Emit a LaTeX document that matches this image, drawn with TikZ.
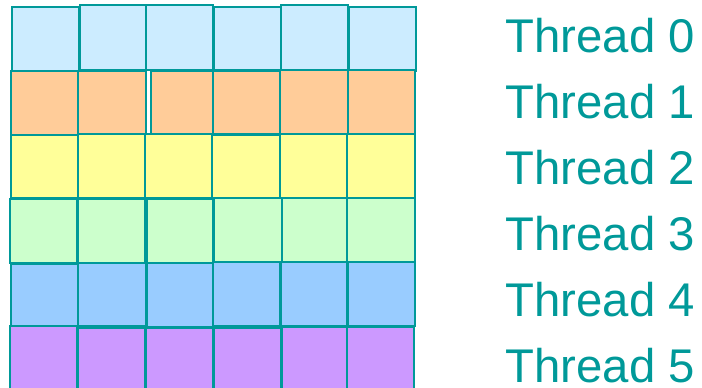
\documentclass[tikz,border=0pt]{standalone}
\usepackage{fontspec}
\setmainfont{Liberation Sans}
\definecolor{teal9}{HTML}{009999}
\definecolor{rowA}{HTML}{CCECFF}
\definecolor{rowB}{HTML}{FFCC99}
\definecolor{rowC}{HTML}{FFFF99}
\definecolor{rowD}{HTML}{CCFFCC}
\definecolor{rowE}{HTML}{99CCFF}
\definecolor{rowF}{HTML}{CC99FF}
\tikzset{
  cellbox/.style={draw=teal9, line width=2.6pt},
  threadlabel/.style={anchor=base west, inner sep=0pt, text=teal9,
    font=\fontsize{47.3}{48}\selectfont}
}
\newcommand\gcell[5]{\filldraw[cellbox, fill=#5] (#1,#2) rectangle (#3,#4);}
\begin{document}
\begin{tikzpicture}[x=1pt, y=-1pt]
\useasboundingbox (0,0) rectangle (702,388);
\begin{scope}
\clip (0,0) rectangle (702,388);
% row 0
\gcell{12}{7}{79}{71}{rowA}
\gcell{80}{5}{146}{70}{rowA}
\gcell{146}{5}{213}{70}{rowA}
\gcell{214}{7}{281}{70}{rowA}
\gcell{281}{5}{348}{70}{rowA}
\gcell{349}{7}{416}{71}{rowA}
% row 1
\gcell{11}{71}{78}{135}{rowB}
\gcell{78}{71}{146}{134}{rowB}
\gcell{151}{71}{213}{134}{rowB}
\gcell{213}{71}{280}{134}{rowB}
\gcell{280}{70}{348}{134}{rowB}
\gcell{348}{70}{415}{134}{rowB}
% row 2
\gcell{11}{135}{78}{198}{rowC}
\gcell{78}{134}{145}{198}{rowC}
\gcell{145}{134}{212}{198}{rowC}
\gcell{212}{135}{280}{198}{rowC}
\gcell{280}{134}{347}{198}{rowC}
\gcell{347}{134}{415}{198}{rowC}
% row 3
\gcell{10}{199}{77}{263}{rowD}
\gcell{78}{199}{145}{263}{rowD}
\gcell{147}{199}{213}{263}{rowD}
\gcell{214}{198}{282}{262}{rowD}
\gcell{282}{198}{347}{262}{rowD}
\gcell{347}{198}{415}{262}{rowD}
% row 4
\gcell{11}{264}{78}{326}{rowE}
\gcell{78}{263}{146}{326}{rowE}
\gcell{147}{263}{213}{327}{rowE}
\gcell{213}{262}{280}{326}{rowE}
\gcell{281}{262}{347}{326}{rowE}
\gcell{348}{262}{415}{326}{rowE}
% row 5
\gcell{10}{326}{77}{392}{rowF}
\gcell{78}{328}{145}{392}{rowF}
\gcell{146}{328}{213}{392}{rowF}
\gcell{214}{328}{281}{392}{rowF}
\gcell{282}{327}{347}{392}{rowF}
\gcell{347}{327}{414}{392}{rowF}
\end{scope}
\node[threadlabel] (t0) at (505.5,52.5) {Thread 0};
\node[threadlabel] (t1) at (505.5,118.5) {Thread 1};
\node[threadlabel] (t2) at (505.5,184.5) {Thread 2};
\node[threadlabel] (t3) at (505.5,250.5) {Thread 3};
\node[threadlabel] (t4) at (505.5,316.5) {Thread 4};
\node[threadlabel] (t5) at (505.5,382) {Thread 5};
\end{tikzpicture}
\end{document}
